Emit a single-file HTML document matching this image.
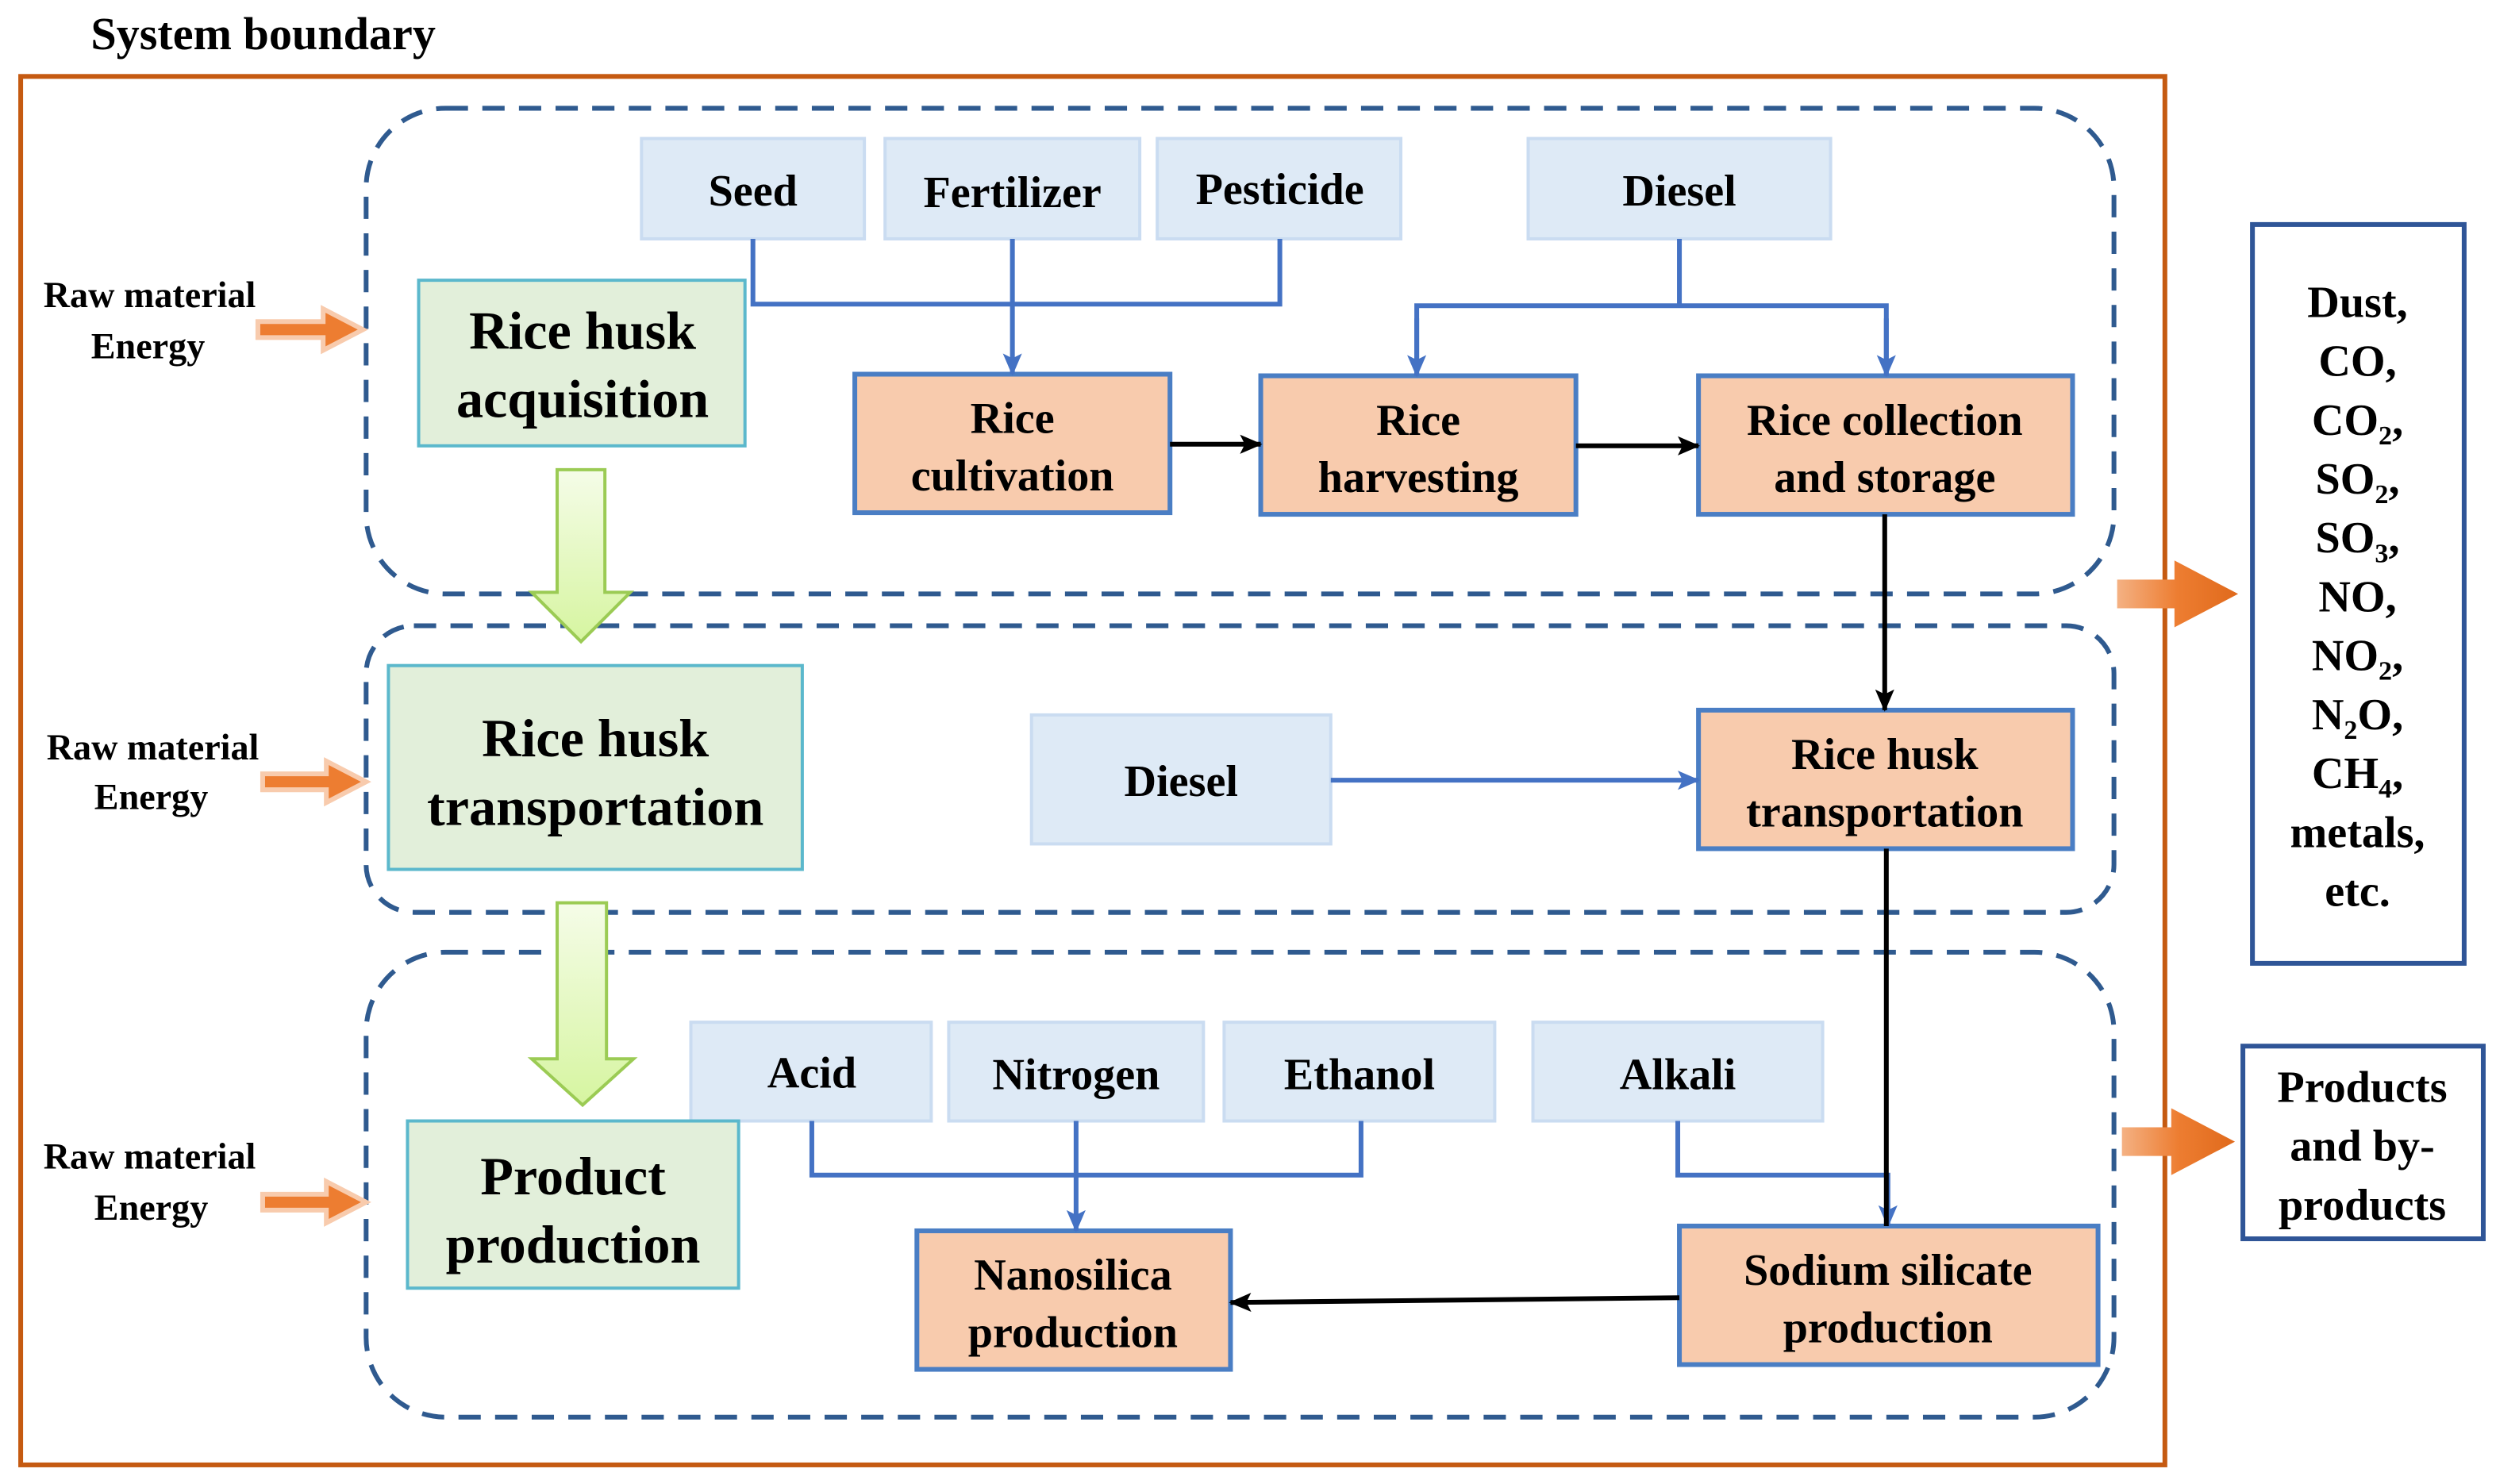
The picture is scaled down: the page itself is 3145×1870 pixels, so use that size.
<!DOCTYPE html>
<html><head><meta charset="utf-8"><style>html,body{margin:0;padding:0;background:#fff}svg{display:block}svg text{font-family:"Liberation Serif","Times New Roman",serif;font-weight:bold}</style></head>
<body>
<svg width="3145" height="1870" viewBox="0 0 1568 932" preserveAspectRatio="none" xmlns="http://www.w3.org/2000/svg">
<defs>
<marker id="ak" markerWidth="14" markerHeight="14" refX="13" refY="7" orient="auto" markerUnits="userSpaceOnUse"><path d="M0,1 L14,7 L0,13 L3,7 z" fill="#000"/></marker>
<marker id="abl" markerWidth="14" markerHeight="14" refX="13" refY="7" orient="auto" markerUnits="userSpaceOnUse"><path d="M0,1 L14,7 L0,13 L3,7 z" fill="#4472C4"/></marker>
<linearGradient id="gg" x1="0" y1="0" x2="0" y2="1"><stop offset="0" stop-color="#F5FCE8"/><stop offset="1" stop-color="#D6F5A0"/></linearGradient>
<linearGradient id="og" x1="0" y1="0" x2="1" y2="0"><stop offset="0" stop-color="#F4B183"/><stop offset="0.5" stop-color="#ED7D31"/><stop offset="1" stop-color="#E06A1C"/></linearGradient>
</defs>
<text x="57" y="31" font-size="29">System boundary</text>
<rect x="13" y="48" width="1347" height="872" fill="none" stroke="#C55A11" stroke-width="3"/>
<g fill="none" stroke="#2F5A8F" stroke-width="3" stroke-dasharray="14,9">
<rect x="230" y="68" width="1098" height="305" rx="50"/>
<rect x="230" y="393" width="1098" height="180" rx="30"/>
<rect x="230" y="598" width="1098" height="292" rx="50"/>
</g>
<g fill="#DEEAF6" stroke="#CADCF1" stroke-width="2">
<rect x="403" y="87" width="140" height="63"/><rect x="556" y="87" width="160" height="63"/>
<rect x="727" y="87" width="153" height="63"/><rect x="960" y="87" width="190" height="63"/>
<rect x="648" y="449" width="188" height="81"/>
<rect x="434" y="642" width="151" height="62"/><rect x="596" y="642" width="160" height="62"/>
<rect x="769" y="642" width="170" height="62"/><rect x="963" y="642" width="182" height="62"/>
</g>
<g font-size="28" text-anchor="middle">
<text x="473" y="129">Seed</text><text x="636" y="130">Fertilizer</text><text x="804" y="128">Pesticide</text><text x="1055" y="129">Diesel</text>
<text x="742" y="500">Diesel</text>
<text x="510" y="683">Acid</text><text x="676" y="684">Nitrogen</text><text x="854" y="684">Ethanol</text><text x="1054" y="684">Alkali</text>
</g>
<g fill="#E2EFDA" stroke="#5BB8CC" stroke-width="2">
<rect x="263" y="176" width="205" height="104"/><rect x="244" y="418" width="260" height="128"/><rect x="256" y="704" width="208" height="105"/>
</g>
<g font-size="34" text-anchor="middle">
<text x="366" y="219">Rice husk</text><text x="366" y="262">acquisition</text>
<text x="374" y="475">Rice husk</text><text x="374" y="518">transportation</text>
<text x="360" y="750">Product</text><text x="360" y="793">production</text>
</g>
<g fill="#F8CBAD" stroke="#4A7EC4" stroke-width="3">
<rect x="537" y="235" width="198" height="87"/><rect x="792" y="236" width="198" height="87"/>
<rect x="1067" y="236" width="235" height="87"/><rect x="1067" y="446" width="235" height="87"/>
<rect x="1055" y="770" width="263" height="87"/><rect x="576" y="773" width="197" height="87"/>
</g>
<g font-size="28" text-anchor="middle">
<text x="636" y="272">Rice</text><text x="636" y="308">cultivation</text>
<text x="891" y="273">Rice</text><text x="891" y="309">harvesting</text>
<text x="1184" y="273">Rice collection</text><text x="1184" y="309">and storage</text>
<text x="1184" y="483">Rice husk</text><text x="1184" y="519">transportation</text>
<text x="1186" y="807">Sodium silicate</text><text x="1186" y="843">production</text>
<text x="674" y="810">Nanosilica</text><text x="674" y="846">production</text>
</g>
<g fill="none" stroke="#4472C4" stroke-width="3">
<path d="M473,150 V191 H804 V150"/>
<path d="M636,150 V235" marker-end="url(#abl)"/>
<path d="M1055,150 V192 M890,236 V192 H1185 V236"/>
<path d="M890,200 V236" marker-end="url(#abl)"/><path d="M1185,200 V236" marker-end="url(#abl)"/>
<path d="M836,490 H1067" marker-end="url(#abl)"/>
<path d="M510,704 V738 H855 V704"/>
<path d="M676,704 V773" marker-end="url(#abl)"/>
<path d="M1054,704 V738 H1186 V770" marker-end="url(#abl)"/>
</g>
<g fill="none" stroke="#000" stroke-width="3">
<path d="M735,279 H792" marker-end="url(#ak)"/>
<path d="M990,280 H1067" marker-end="url(#ak)"/>
<path d="M1184,323 V446" marker-end="url(#ak)"/>
<path d="M1185,533 V770"/>
<path d="M1055,815 L773,818" marker-end="url(#ak)"/>
</g>
<g fill="url(#gg)" stroke="#9BCB54" stroke-width="2">
<path d="M350,295 H380 V372 H396 L365,403 L334,372 H350 Z"/>
<path d="M350,567 H381 V665 H398 L366,694 L334,665 H350 Z"/>
</g>
<g fill="#ED7D31" stroke="#F8CBAD" stroke-width="3">
<path d="M162,202 H203 V194 L228,207 L203,220 V212 H162 Z"/>
<path d="M165,486 H205 V478 L230,491 L205,504 V496 H165 Z"/>
<path d="M165,750 H205 V742 L230,755 L205,768 V760 H165 Z"/>
</g>
<g font-size="23" text-anchor="middle">
<text x="94" y="193">Raw material</text><text x="93" y="225">Energy</text>
<text x="96" y="477">Raw material</text><text x="95" y="508">Energy</text>
<text x="94" y="734">Raw material</text><text x="95" y="766">Energy</text>
</g>
<path d="M1330,364 H1366 V352 L1406,373 L1366,394 V382 H1330 Z" fill="url(#og)"/>
<path d="M1333,708 H1364 V696 L1404,717 L1364,738 V726 H1333 Z" fill="url(#og)"/>
<rect x="1415" y="141" width="133" height="464" fill="#fff" stroke="#2F5597" stroke-width="3"/>
<g font-size="28" text-anchor="middle">
<text x="1481" y="199">Dust,</text><text x="1481" y="236">CO,</text>
<text x="1481" y="273">CO<tspan font-size="17" dy="6">2</tspan><tspan dy="-6">,</tspan></text>
<text x="1481" y="310">SO<tspan font-size="17" dy="6">2</tspan><tspan dy="-6">,</tspan></text>
<text x="1481" y="347">SO<tspan font-size="17" dy="6">3</tspan><tspan dy="-6">,</tspan></text>
<text x="1481" y="384">NO,</text>
<text x="1481" y="421">NO<tspan font-size="17" dy="6">2</tspan><tspan dy="-6">,</tspan></text>
<text x="1481" y="458">N<tspan font-size="17" dy="6">2</tspan><tspan dy="-6">O,</tspan></text>
<text x="1481" y="495">CH<tspan font-size="17" dy="6">4</tspan><tspan dy="-6">,</tspan></text>
<text x="1481" y="532">metals,</text><text x="1481" y="569">etc.</text>
</g>
<rect x="1409" y="657" width="151" height="121" fill="#fff" stroke="#2F5597" stroke-width="3"/>
<g font-size="28" text-anchor="middle">
<text x="1484" y="692">Products</text><text x="1484" y="729">and by-</text><text x="1484" y="766">products</text>
</g>
</svg>
</body></html>
